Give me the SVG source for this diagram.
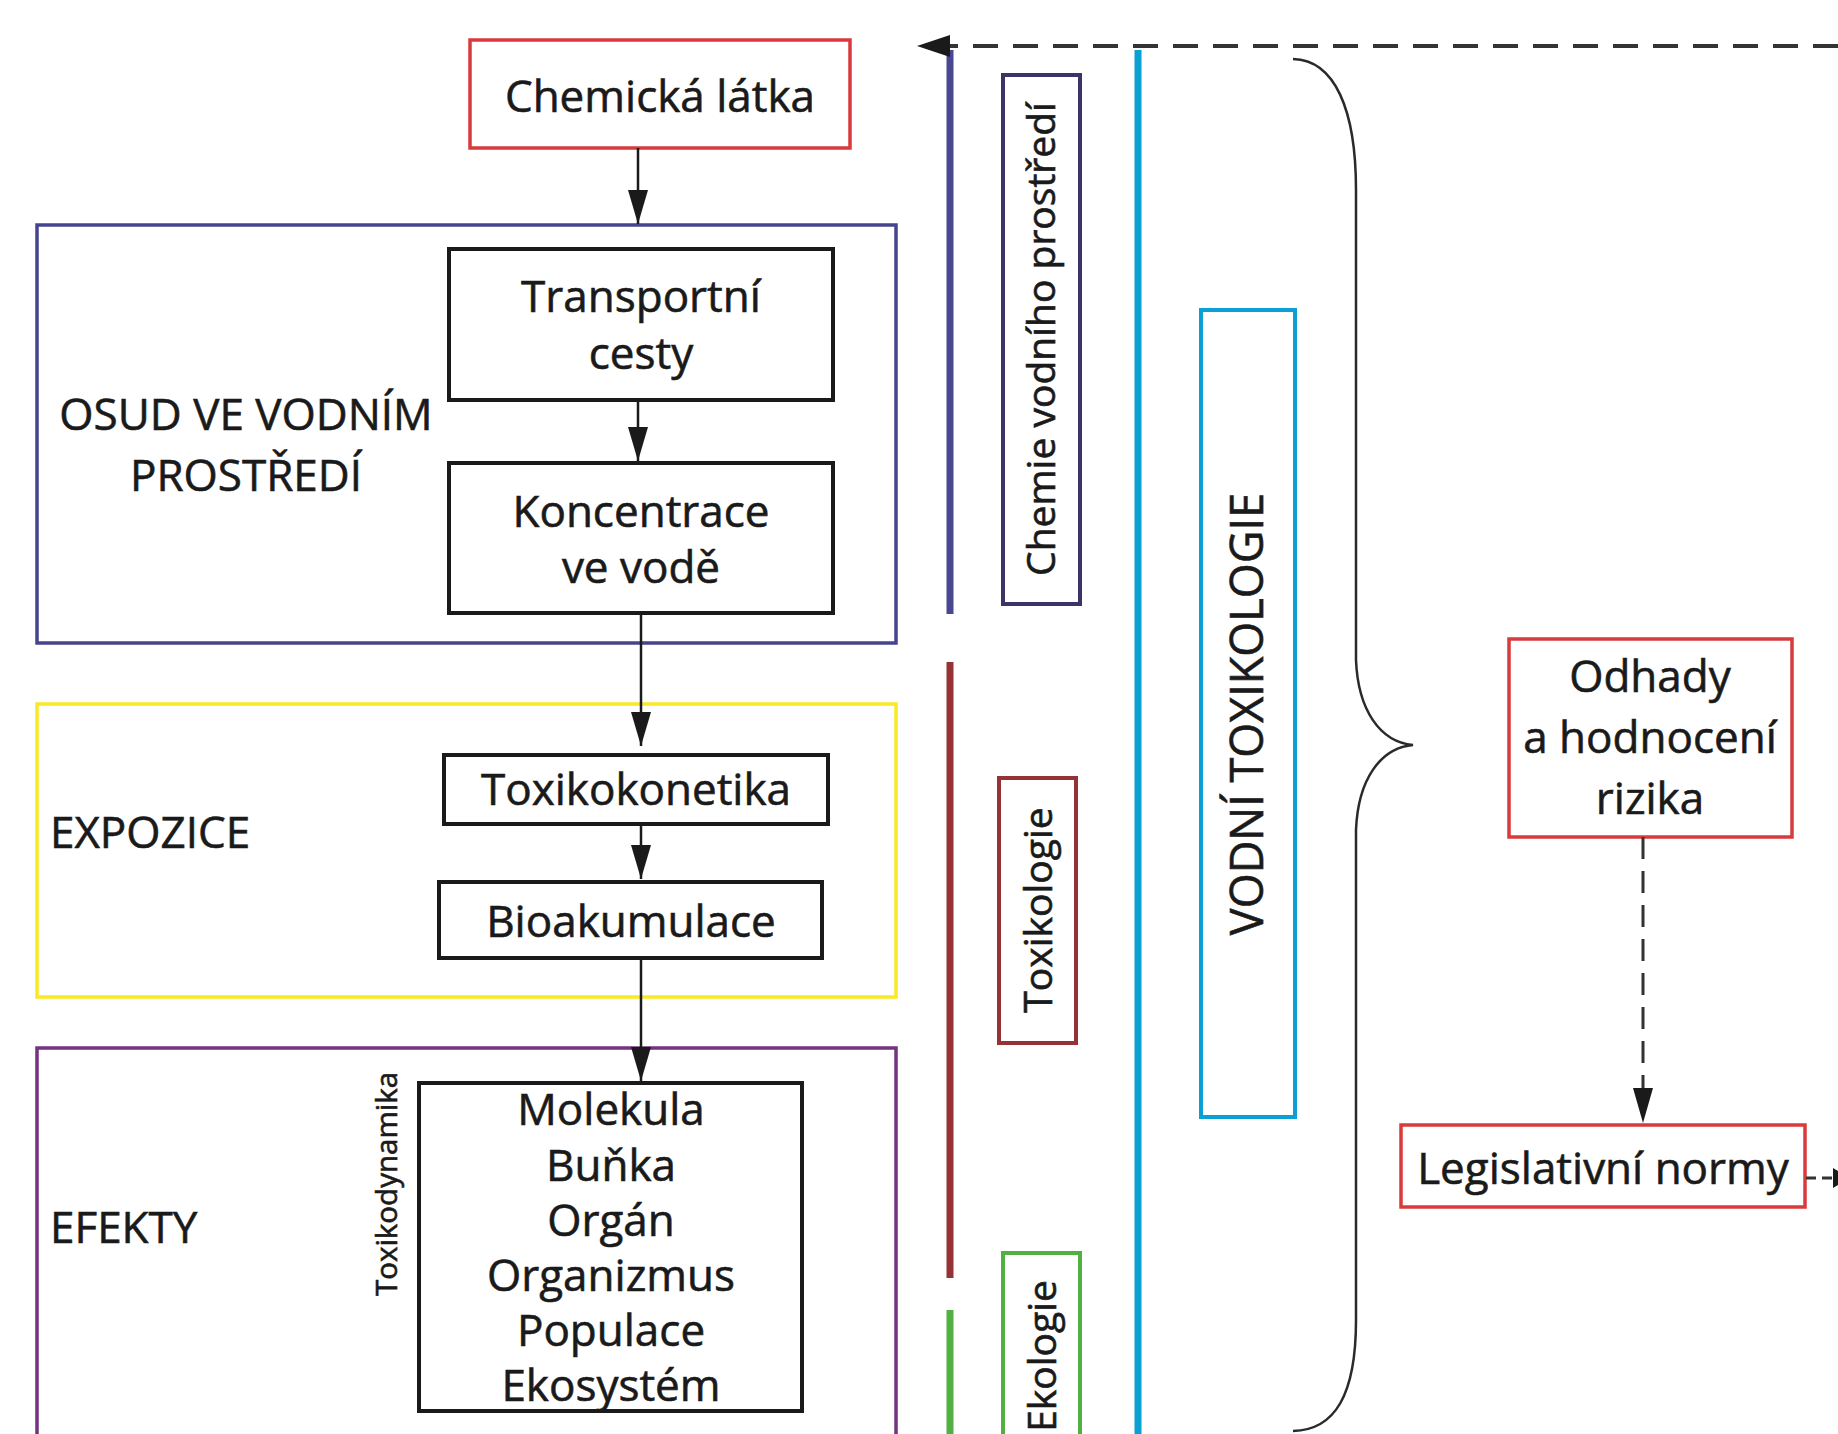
<svg xmlns="http://www.w3.org/2000/svg" width="1838" height="1434" viewBox="0 0 1838 1434">
<defs>
<marker id="ahb" markerWidth="34" markerHeight="20" refX="34" refY="10" orient="auto" markerUnits="userSpaceOnUse" viewBox="0 0 34 20">
<path d="M0,0 L34,10 L0,20 Z" fill="#1a1a1a"/>
</marker>
<style>
text{font-family:"Open Sans","Noto Sans","Liberation Sans",sans-serif;fill:#1a1a1a;stroke:#1a1a1a;stroke-width:0.6;}
.t{font-size:44px;text-anchor:middle;}
.l{font-size:44px;}
.box{fill:none;stroke:#1a1a1a;stroke-width:4;}
.red{fill:none;stroke:#d93a3c;stroke-width:3.5;}
.arr{stroke:#1a1a1a;stroke-width:2.5;fill:none;marker-end:url(#ahb);}
.dash{stroke:#333;stroke-width:4;fill:none;stroke-dasharray:25 15;}
.vt{font-size:39px;text-anchor:middle;}
</style>
</defs>
<rect width="1838" height="1434" fill="#fff"/>

<g id="osud">
<rect x="37" y="225" width="859" height="418" fill="none" stroke="#45458f" stroke-width="3.5"/>
<text class="t" x="246" y="430">OSUD VE VODNÍM</text>
<text class="t" x="246" y="491">PROSTŘEDÍ</text>
</g>
<g id="expozice">
<rect x="37" y="704" width="859" height="293" fill="none" stroke="#fbe925" stroke-width="3.5"/>
<text class="l" x="50" y="848">EXPOZICE</text>
</g>
<g id="efekty">
<rect x="37" y="1048" width="859" height="400" fill="none" stroke="#74327f" stroke-width="3.5"/>
<text class="l" x="50" y="1243">EFEKTY</text>
</g>

<g id="chemicka">
<rect class="red" x="470" y="40" width="380" height="108"/>
<text class="t" x="660" y="112">Chemická látka</text>
</g>
<g id="transport">
<rect class="box" x="449" y="249" width="384" height="151"/>
<text class="t" x="641" y="312">Transportní</text>
<text class="t" x="641" y="369">cesty</text>
</g>
<g id="koncentrace">
<rect class="box" x="449" y="463" width="384" height="150"/>
<text class="t" x="641" y="527">Koncentrace</text>
<text class="t" x="641" y="583">ve vodě</text>
</g>
<g id="toxikokonetika">
<rect class="box" x="444" y="755" width="384" height="69"/>
<text class="t" x="636" y="805">Toxikokonetika</text>
</g>
<g id="bioakumulace">
<rect class="box" x="439" y="882" width="383" height="76"/>
<text class="t" x="631" y="937">Bioakumulace</text>
</g>
<g id="urovne">
<rect class="box" x="419" y="1083" width="383" height="328"/>
<text class="t" x="611" y="1125">Molekula</text>
<text class="t" x="611" y="1181">Buňka</text>
<text class="t" x="611" y="1236">Orgán</text>
<text class="t" x="611" y="1291">Organizmus</text>
<text class="t" x="611" y="1346">Populace</text>
<text class="t" x="611" y="1401">Ekosystém</text>
<text x="397" y="1184" font-size="29.5" text-anchor="middle" stroke-width="0.3" transform="rotate(-90 397 1184)">Toxikodynamika</text>
</g>

<g id="chemie">
<line x1="950" y1="50" x2="950" y2="614" stroke="#48478f" stroke-width="7"/>
<rect x="1003" y="75" width="77" height="529" fill="none" stroke="#3b3466" stroke-width="4"/>
<text class="vt" x="1055" y="339" font-size="40" transform="rotate(-90 1055 339)">Chemie vodního prostředí</text>
</g>
<g id="toxikologie">
<line x1="950" y1="662" x2="950" y2="1278" stroke="#953235" stroke-width="7"/>
<rect x="999" y="778" width="77" height="265" fill="none" stroke="#953235" stroke-width="4"/>
<text class="vt" x="1052" y="910" transform="rotate(-90 1052 910)">Toxikologie</text>
</g>
<g id="ekologie">
<line x1="950" y1="1310" x2="950" y2="1440" stroke="#52b043" stroke-width="7"/>
<rect x="1003" y="1253" width="77" height="200" fill="none" stroke="#52b043" stroke-width="4"/>
<text class="vt" x="1056" y="1280" style="text-anchor:end" transform="rotate(-90 1056 1280)">Ekologie</text>
</g>
<g id="vodni">
<line x1="1138" y1="50" x2="1138" y2="1440" stroke="#0aa0d4" stroke-width="7"/>
<rect x="1201" y="310" width="94" height="807" fill="none" stroke="#0aa0d4" stroke-width="4"/>
<text x="1263" y="714" font-size="45" text-anchor="middle" transform="rotate(-90 1263 714)">VODNÍ TOXIKOLOGIE</text>
</g>
<g id="brace">
<path d="M1293,59 C1335,60 1356,110 1356,190 L1356,660 C1358,710 1380,742 1413,745 C1380,748 1358,780 1356,830 L1356,1320 C1356,1395 1335,1430 1293,1431" fill="none" stroke="#2a2a2a" stroke-width="2.5"/>
</g>
<g id="odhady">
<rect class="red" x="1509" y="639" width="283" height="198"/>
<text class="t" x="1650" y="692">Odhady</text>
<text class="t" x="1650" y="753">a hodnocení</text>
<text class="t" x="1650" y="814">rizika</text>
</g>
<g id="legislativni">
<rect class="red" x="1401" y="1125" width="404" height="82"/>
<text class="t" x="1603" y="1184">Legislativní normy</text>
</g>

<g id="connectors">
<line class="arr" x1="638" y1="148" x2="638" y2="224"/>
<line class="arr" x1="638" y1="400" x2="638" y2="461"/>
<line class="arr" x1="641" y1="613" x2="641" y2="746"/>
<line class="arr" x1="641" y1="824" x2="641" y2="879"/>
<line class="arr" x1="641" y1="958" x2="641" y2="1081"/>
<line class="dash" x1="1838" y1="46" x2="945" y2="46"/>
<path d="M917,46 L950,35 L950,57 Z" fill="#1a1a1a"/>
<line x1="1643" y1="837" x2="1643" y2="1090" stroke="#333" stroke-width="3" stroke-dasharray="22 12"/>
<path d="M1643,1123 L1633,1088 L1653,1088 Z" fill="#1a1a1a"/>
<line x1="1806" y1="1178" x2="1836" y2="1178" stroke="#333" stroke-width="3" stroke-dasharray="10 6"/>
<path d="M1833,1168 L1850,1178 L1833,1188 Z" fill="#1a1a1a"/>
</g>
</svg>
